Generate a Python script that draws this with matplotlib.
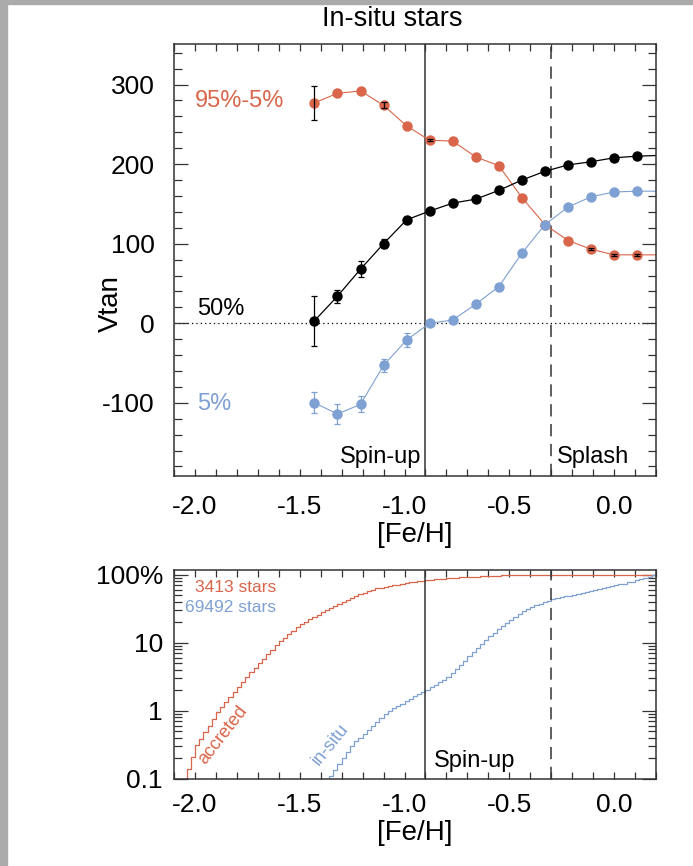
import numpy as np
import matplotlib
matplotlib.use('Agg')
import matplotlib.pyplot as plt
from matplotlib.patches import Rectangle
from matplotlib.ticker import MultipleLocator, FixedLocator, FixedFormatter, LogLocator, NullFormatter

plt.rcParams['font.family'] = ['Liberation Sans', 'DejaVu Sans']

RED = '#D9654A'
BLUE = '#7FA0D2'

# top panel: Vtan percentiles in [Fe/H] bins
feh_bins = [-1.43, -1.32, -1.21, -1.10, -0.99, -0.88, -0.77, -0.66,
            -0.55, -0.44, -0.33, -0.22, -0.11, 0.00, 0.11]
width_95_5 = [277, 289, 292, 274, 248, 230, 229, 209, 198, 158, 124, 104, 93, 86, 86]
median_50 = [3, 34, 68, 100, 130, 141, 151, 156, 167, 180, 191, 199, 203, 208, 210]
low_5 = [-100, -114, -102, -53, -21, 0, 4, 24, 46, 88, 124, 146, 159, 165, 166]
# error bars (0 = hidden behind the marker)
err_95_5 = [21, 0, 0, 4, 0, 1, 0, 0, 0, 0, 0, 0, 1, 1, 1]
err_50 = [31, 8, 10, 6, 0, 0, 0, 0, 0, 0, 0, 0, 0, 0, 0]
err_5 = [13, 13, 10, 8, 9, 0, 0, 0, 0, 0, 0, 0, 0, 0, 0]
# next bin (just outside the plotted range), so the lines run to the edge
feh_next = 0.22
next_95_5, next_50, next_5 = 86, 211, 166

# bottom panel: cumulative fraction (%) in 0.02 dex steps
acc_start = -2.10
cdf_accreted = [
    0.04, 0.06, 0.09, 0.14, 0.21, 0.32, 0.39, 0.49, 0.61, 0.77, 0.96,
    1.15, 1.36, 1.61, 1.90, 2.25, 2.67, 3.16,
    3.69, 4.30, 5.01, 5.84, 6.81, 7.94, 9.26,
    10.6, 11.9, 13.5, 15.1, 17.1,
    18.7, 20.3, 22.0, 23.9, 25.9, 28.1, 30.4,
    32.7, 35.0, 37.4, 40.1, 42.9, 45.9, 49.1,
    51.9, 54.5, 57.1, 60.0, 63.0,
    64.6, 66.2, 67.9, 69.7, 71.5, 73.3, 75.2, 77.1, 79.1,
    80.4, 81.5, 82.8, 83.9, 85.1, 86.3, 87.5, 88.9,
    89.7, 90.4, 91.0, 91.6, 92.3, 92.9, 93.5, 94.2, 95.1,
    95.7, 96.2, 96.8, 97.3, 97.9, 98.6, 99.1, 99.4,
    99.6, 99.7, 99.8, 99.8, 99.9, 99.9,
    99.9, 99.9, 99.9, 100, 100, 100, 100, 100, 100, 100, 100, 100, 100,
    100, 100, 100, 100, 100, 100, 100, 100, 100, 100, 100, 100, 100, 100,
]
ins_start = -1.44
cdf_insitu = [
    0.049, 0.060, 0.074, 0.090, 0.111, 0.136, 0.167, 0.206, 0.252, 0.310,
    0.356, 0.406, 0.463, 0.528, 0.603, 0.687, 0.784, 0.894,
    1.01, 1.09, 1.19, 1.28, 1.39, 1.50, 1.63, 1.76, 1.90, 2.06,
    2.23, 2.43, 2.64, 2.86, 3.11,
    3.55, 4.09, 4.73, 5.46, 6.31, 7.28, 8.41, 9.71,
    11.0, 12.4, 14.0, 15.8,
    17.9, 19.7, 21.7, 23.8, 26.2, 28.8,
    31.8, 33.5, 35.3, 37.2, 39.4, 41.5, 43.8,
    45.1, 46.3, 47.8, 49.1, 50.6, 52.0, 53.5, 55.1,
    56.8, 58.7, 60.7, 62.8, 64.9, 67.1, 69.3, 71.8, 74.1, 76.7, 79.3,
    82.6, 86.1, 89.9, 93.8, 97.7, 100,
]

feh_spinup = -0.9
feh_splash = -0.3


def style_axis(ax, ylen_major, ylen_minor):
    for s in ax.spines.values():
        s.set_linewidth(1.1)
        s.set_color('#333333')
    ax.tick_params(which='both', direction='in', top=True, right=True,
                   width=0.9, color='#333333', labelsize=19)
    ax.tick_params(axis='x', which='both', length=5)
    ax.tick_params(axis='y', which='major', length=ylen_major)
    ax.tick_params(axis='y', which='minor', length=ylen_minor)


def errbars(ax, x, y, err, color):
    # only draw the bars that show up in the figure
    idx = [i for i, e in enumerate(err) if e > 0]
    ax.errorbar([x[i] for i in idx], [y[i] for i in idx], yerr=[err[i] for i in idx],
                fmt='none', ecolor=color, elinewidth=0.9, capsize=2.5,
                capthick=0.9, zorder=4)


def main():
    fig = plt.figure(figsize=(6.93, 8.66), dpi=100)
    fig.patches.append(Rectangle((0, 0), 7 / 693, 1, transform=fig.transFigure,
                                 color='#ABABAB', zorder=-5))
    fig.patches.append(Rectangle((0, 1 - 4 / 866), 1, 4 / 866, transform=fig.transFigure,
                                 color='#ABABAB', zorder=-5))

    left, right = 174 / 693, 656 / 693
    ax1 = fig.add_axes([left, 1 - 476 / 866, right - left, (476 - 44) / 866])
    ax2 = fig.add_axes([left, 1 - 779 / 866, right - left, (779 - 570) / 866])

    # ---- top panel
    x_line = feh_bins + [feh_next]
    ax1.plot(x_line, width_95_5 + [next_95_5], color=RED, lw=0.8, zorder=2)
    ax1.plot(x_line, median_50 + [next_50], color='black', lw=0.9, zorder=2)
    ax1.plot(x_line, low_5 + [next_5], color=BLUE, lw=0.8, zorder=2)
    ax1.plot(feh_bins, width_95_5, 'o', color=RED, ms=7.5, mec='none', zorder=3)
    ax1.plot(feh_bins, median_50, 'o', color='black', ms=7.5, mec='none', zorder=3)
    ax1.plot(feh_bins, low_5, 'o', color=BLUE, ms=7.5, mec='none', zorder=3)
    errbars(ax1, feh_bins, width_95_5, err_95_5, 'black')
    errbars(ax1, feh_bins, median_50, err_50, 'black')
    errbars(ax1, feh_bins, low_5, err_5, BLUE)

    ax1.axhline(0, color='black', lw=0.9, ls=(0, (1, 2.5)), zorder=1)
    ax1.axvline(feh_spinup, color='#333333', lw=1.1, zorder=1)
    ax1.axvline(feh_splash, color='#333333', lw=1.1, ls=(0, (8, 5)), zorder=1)

    ax1.text(-2.0, 279, '95%-5%', color=RED, fontsize=17, va='center')
    ax1.text(-1.99, 4, '50%', color='black', fontsize=17, va='bottom')
    ax1.text(-1.99, -102, '5%', color=BLUE, fontsize=17, va='center')
    ax1.text(-0.92, -182, 'Spin-up', fontsize=17, ha='right', va='bottom')
    ax1.text(-0.275, -182, 'Splash', fontsize=17, ha='left', va='bottom')

    ax1.set_xlim(-2.1, 0.2)
    ax1.set_ylim(-192, 351)
    ax1.xaxis.set_major_locator(MultipleLocator(0.5))
    ax1.xaxis.set_minor_locator(MultipleLocator(0.1))
    ax1.yaxis.set_major_locator(MultipleLocator(100))
    ax1.yaxis.set_minor_locator(MultipleLocator(20))
    ax1.xaxis.set_major_formatter(plt.FuncFormatter(lambda v, p: f'{v:.1f}'))
    ax1.yaxis.set_major_formatter(plt.FuncFormatter(lambda v, p: f'{v:.0f}'))
    style_axis(ax1, 10, 5.5)
    ax1.tick_params(axis='x', pad=14)
    ax1.tick_params(axis='y', pad=14)
    ax1.set_xlabel('[Fe/H]', fontsize=20, labelpad=2)
    ax1.set_ylabel('Vtan', fontsize=20)
    ax1.yaxis.set_label_coords(-0.104, 0.40)
    fig.text(392 / 693, 1 - 19 / 866, 'In-situ stars', fontsize=19.5, ha='center', va='center')

    # ---- bottom panel
    x_acc = acc_start + 0.02 * np.arange(len(cdf_accreted))
    x_ins = ins_start + 0.02 * np.arange(len(cdf_insitu))
    ax2.step(x_acc, cdf_accreted, where='post', color=RED, lw=0.9)
    ax2.step(x_ins, cdf_insitu, where='post', color=BLUE, lw=0.9)
    ax2.axvline(feh_spinup, color='#333333', lw=1.1)
    ax2.axvline(feh_splash, color='#333333', lw=1.1, ls=(0, (8, 5)))

    ax2.text(-2.0, 65, '3413 stars', color=RED, fontsize=12.5, va='center')
    ax2.text(-2.048, 32.5, '69492 stars', color=BLUE, fontsize=12.5, va='center')
    ax2.text(-1.868, 0.44, 'accreted', color=RED, fontsize=13, rotation=52,
             ha='center', va='center')
    ax2.text(-1.354, 0.316, 'in-situ', color=BLUE, fontsize=13, rotation=51,
             ha='center', va='center')
    ax2.text(-0.86, 0.184, 'Spin-up', fontsize=17, va='center')

    ax2.set_xlim(-2.1, 0.2)
    ax2.set_yscale('log')
    ax2.set_ylim(0.1, 117)
    ax2.xaxis.set_major_locator(MultipleLocator(0.5))
    ax2.xaxis.set_minor_locator(MultipleLocator(0.1))
    ax2.xaxis.set_major_formatter(plt.FuncFormatter(lambda v, p: f'{v:.1f}'))
    ax2.yaxis.set_major_locator(FixedLocator([0.1, 1, 10, 100]))
    ax2.yaxis.set_major_formatter(FixedFormatter(['0.1', '1', '10', '100%']))
    ax2.yaxis.set_minor_locator(LogLocator(base=10, subs=np.arange(2, 10)))
    ax2.yaxis.set_minor_formatter(NullFormatter())
    style_axis(ax2, 10, 5.5)
    ax2.tick_params(axis='x', pad=10)
    ax2.tick_params(axis='y', pad=8)
    ax2.set_xlabel('[Fe/H]', fontsize=20, labelpad=2)

    fig.savefig('out.png', dpi=100)
    plt.close(fig)


if __name__ == '__main__':
    main()
